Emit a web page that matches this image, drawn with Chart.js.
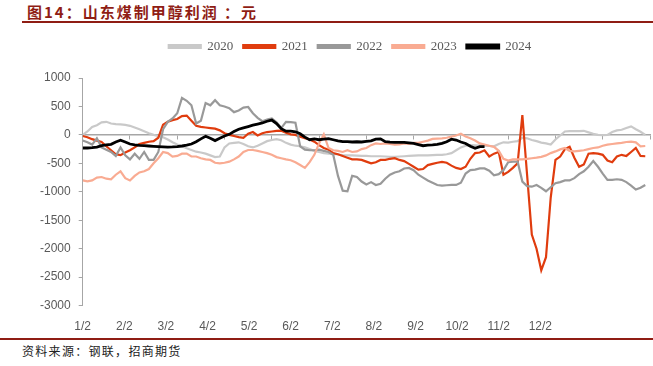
<!DOCTYPE html>
<html>
<head>
<meta charset="utf-8">
<script src="https://cdn.jsdelivr.net/npm/chart.js@4.4.1/dist/chart.umd.min.js"></script>
<style>
  body { margin: 0; width: 653px; height: 366px; overflow: hidden; background: #fff; position: relative; font-family: "Noto Sans CJK SC", sans-serif; }
  #title { position: absolute; left: 27px; top: 1px; font-size: 15px; font-weight: bold; color: #8f1d14; letter-spacing: 2px; white-space: pre; }
  #rule-top { position: absolute; left: 22px; right: 0; top: 21px; height: 2px; background: #8f1d14; }
  #rule-bottom { position: absolute; left: 0; right: 0; top: 338px; height: 2px; background: #8f1d14; }
  #source { position: absolute; left: 22px; top: 342px; font-size: 12px; color: #222; letter-spacing: 1.3px; white-space: nowrap; }
  #wrap { position: absolute; left: 0; top: 0; width: 653px; height: 342px; }
</style>
</head>
<body>
<div id="title">图14：山东煤制甲醇利润 ：元</div>
<div id="rule-top"></div>
<div id="rule-bottom"></div>
<div id="source">资料来源：钢联，招商期货</div>
<div id="wrap"><canvas id="chart"></canvas></div>
<script>
// tick labels shown along the bottom (one every LABEL_STEP samples)
const tickLabels = ['1/2', '2/2', '3/2', '4/2', '5/2', '6/2', '7/2', '8/2', '9/2', '10/2', '11/2', '12/2'];
const LABEL_STEP = 8.8;
const X_MAX = 120;

const years = ['2020', '2021', '2022', '2023', '2024'];

// profit series, one value per sample step
const s2020 = [0, 60, 140, 170, 220, 230, 200, 190, 185, 175,
  160, 130, 100, 65, 30, 0, -20, -40, -80, -130,
  -170, -200, -235, -265, -295, -310, -330, -360, -390, -380,
  -220, -150, -140, -130, -160, -200, -220, -190, -150, -110,
  -90, -75, -95, -140, -170, -190, -200, -220, -250, -280,
  -300, -320, -330, -335, -345, -355, -360, -360, -365, -370,
  -370, -375, -375, -375, -380, -385, -385, -380, -375, -370,
  -365, -360, -360, -360, -355, -350, -350, -340, -320, -270,
  -220, -190, -180, -185, -190, -190, -195, -200, -160, -130,
  -135, -120, -110, -50, -60, -90, -110, -135, -150, -170,
  -80, -10, 60, 65, 65, 65, 72, 45, 20, 0,
  -5, 0, 50, 80, 90, 120, 150, 100, 55, 0];

const s2021 = [-20, -40, -75, -100, -125, -200, -270, -340, -355, -310,
  -270, -220, -160, -140, -120, -110, -50, 180, 230, 260,
  280, 330, 340, 250, 160, 140, 130, 120, 110, 80,
  30, 0, -20, -40, -50, 20, 50, -10, 30, 50,
  60, 70, 75, 40, 10, 0, -30, -60, -80, -120,
  -180, -230, -260, -320, -340, -370, -400, -430, -430, -440,
  -470, -500, -480, -440, -440, -420, -410, -440, -460, -510,
  -560, -610, -600, -530, -510, -490, -475, -490, -540, -580,
  -600, -560, -420, -320, -310, -270, -380, -330, -300, -700,
  -650, -580, -500, 350, -700, -1750, -2000, -2380, -2150, -1100,
  -440, -380, -250, -210, -400, -560, -520, -330, -320, -330,
  -350, -450, -480, -380, -350, -370, -300, -230, -370, -375];

const s2022 = [-100, -130, -170, -60, -220, -260, -300, -370, -220, -360,
  -430, -330, -420, -300, -440, -440, -300, 100, 230, 290,
  380, 650, 600, 520, 200, 250, 560, 520, 610, 520,
  500, 470, 400, 430, 480, 490, 380, 300, 240, 270,
  290, 220, 120, 230, 225, 215, -200, -260, -270, -270,
  -260, -280, -300, -350, -720, -980, -990, -720, -740, -820,
  -870, -830, -880, -860, -770, -700, -660, -640, -590, -580,
  -620, -700, -750, -800, -840, -880, -890, -885, -880, -880,
  -840, -680, -620, -610, -590, -590, -630, -710, -690, -620,
  -480, -470, -470, -820, -900, -910, -880, -930, -990, -920,
  -850, -830, -800, -800, -760, -690, -640, -560, -460, -560,
  -680, -790, -790, -780, -790, -830, -890, -960, -930, -880];

const s2023 = [-800, -815, -800, -750, -740, -770, -780, -700, -640, -760,
  -800, -720, -660, -640, -600, -500, -410, -300, -320, -380,
  -370, -330, -330, -380, -380, -410, -430, -440, -490, -500,
  -490, -470, -430, -380, -300, -265, -265, -280, -300, -320,
  -350, -390, -410, -430, -445, -480, -530, -580, -480, -350,
  -150, 10, -230, -270, -280, -300, -270, -300, -290, -250,
  -230, -180, -150, -160, -150, -160, -170, -165, -150, -160,
  -140, -140, -120, -100, -70, -65, -60, -50, -30, -10,
  20, -30, -60, -100, -150, -170, -190, -210, -280, -420,
  -450, -430, -430, -430, -420, -410, -400, -385, -360, -320,
  -290, -255, -230, -280, -290, -280, -270, -250, -230, -220,
  -190, -170, -160, -150, -140, -125, -120, -130, -200, -195];

const s2024 = [-230, -230, -225, -215, -190, -175, -165, -125, -95, -125,
  -160, -175, -185, -190, -195, -200, -205, -210, -215, -212,
  -205, -195, -180, -160, -120, -70, -25, -60, -100, -60,
  -20, 10, 60, 100, 125, 147, 170, 190, 210, 240,
  260, 200, 110, 65, 65, 55, 20, -40, -85, -70,
  -85, -75, -65, -85, -105, -117, -117, -125, -120, -125,
  -115, -105, -75, -70, -120, -128, -130, -130, -130, -140,
  -150, -170, -190, -180, -175, -168, -150, -120, -75, -90,
  -125, -150, -200, -235, -205, -205];

const series = [s2020, s2021, s2022, s2023, s2024];
const colors = ['#c9c9c9', '#e03c0e', '#999999', '#f9ab92', '#000000'];
const widths = [2.2, 2.2, 2.2, 2.2, 2.8];

// x positions are just sample indices
const sampleIdx = s2020.map((_, i) => i);

const datasets = years.map((y, k) => ({
  label: y,
  data: series[k],
  borderColor: colors[k],
  backgroundColor: colors[k],
  borderWidth: widths[k],
  pointRadius: 0,
  tension: 0,
  order: years.length - k   // later years drawn on top
}));

// extra room under the legend, and nudge it right a little
const legendTweak = {
  id: 'legendTweak',
  beforeInit(chart) {
    const fit = chart.legend.fit;
    chart.legend.fit = function () {
      fit.bind(chart.legend)();
      this.height += 15;
    };
  },
  afterLayout(chart) {
    chart.legend.left += 18;
  }
};

new Chart(document.getElementById('chart'), {
  type: 'line',
  data: { labels: sampleIdx, datasets },
  plugins: [legendTweak],
  options: {
    responsive: true,
    maintainAspectRatio: false,
    animation: false,
    layout: { padding: { top: 30, left: 32, right: 3, bottom: 2 } },
    plugins: {
      tooltip: { enabled: false },
      legend: {
        position: 'top',
        labels: {
          boxWidth: 32,
          boxHeight: 3,
          padding: 10,
          color: '#595959',
          font: { family: 'Liberation Serif', size: 13 },
          sort: (a, b) => a.datasetIndex - b.datasetIndex
        }
      }
    },
    scales: {
      x: {
        type: 'linear',
        min: 0,
        max: X_MAX,
        afterBuildTicks(scale) {
          scale.ticks = tickLabels.map((_, k) => ({ value: k * LABEL_STEP }));
        },
        ticks: {
          autoSkip: false,
          maxRotation: 0,
          padding: 6,
          color: '#595959',
          font: { family: 'Liberation Sans', size: 12 },
          callback: (v, i) => tickLabels[i]
        },
        grid: { display: false },
        border: { display: false }
      },
      x2: {
        type: 'linear',
        position: { y: 0 },
        min: 0,
        max: X_MAX,
        ticks: { display: false, stepSize: 10 },
        grid: { drawOnChartArea: false, drawTicks: true, tickLength: 4, color: '#a6a6a6' },
        border: { color: '#a6a6a6', width: 1.5 }
      },
      y: {
        min: -3000,
        max: 1000,
        ticks: {
          stepSize: 500,
          padding: 8,
          color: '#595959',
          font: { family: 'Liberation Sans', size: 12 },
          callback: (v) => String(v)
        },
        grid: { drawOnChartArea: false, tickLength: 4, color: '#a6a6a6' },
        border: { color: '#a6a6a6', width: 1 }
      }
    }
  }
});
</script>
</body>
</html>
